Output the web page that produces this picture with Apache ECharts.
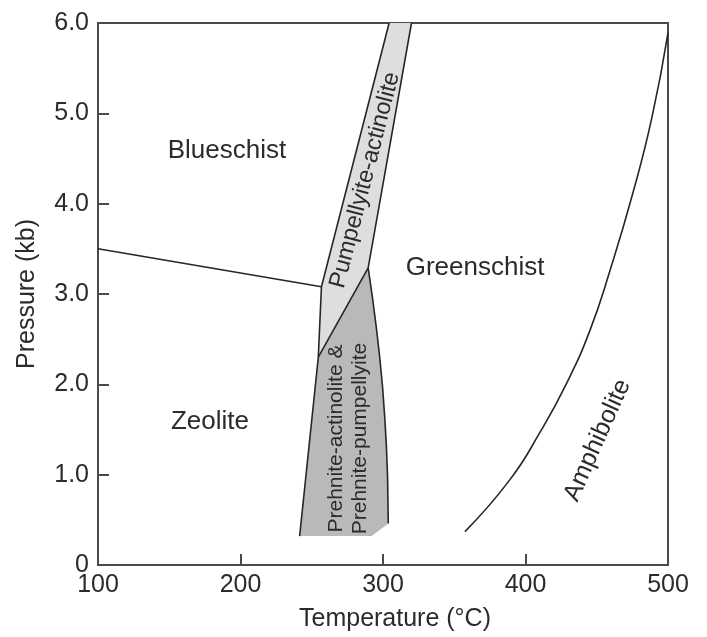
<!DOCTYPE html>
<html>
<head>
<meta charset="utf-8">
<script src="https://cdn.jsdelivr.net/npm/echarts@6/dist/echarts.min.js"></script>
<style>
html,body{margin:0;padding:0;background:#fff;}
#chart{width:707px;height:637px;}
</style>
</head>
<body>
<div id="chart"></div>
<script>
// ---- data ----
const xTickLabels = ['100', '200', '300', '400', '500'];
const yTickLabels = ['0', '1.0', '2.0', '3.0', '4.0', '5.0', '6.0'];

// Pumpellyite-actinolite band (light)
const pumpActT = [304.3, 320.0, 289.6, 254.6, 256.8];
const pumpActP = [6.0, 6.0, 3.29, 2.30, 3.08];

// Prehnite-actinolite & Prehnite-pumpellyite field (dark)
const prehT = [289.6, 292.6, 295.3, 297.7, 299.7, 301.2, 302.4, 303.2, 303.7, 292.0, 241.5, 254.6];
const prehP = [3.29, 2.96, 2.63, 2.30, 1.97, 1.64, 1.31, 0.98, 0.46, 0.32, 0.32, 2.30];

// boundary lines
const leftEdgeT = [304.3, 256.8, 254.6, 241.5];
const leftEdgeP = [6.0, 3.08, 2.30, 0.32];
const rightEdgeT = [320.0, 289.6, 292.6, 295.3, 297.7, 299.7, 301.2, 302.4, 303.2, 303.7];
const rightEdgeP = [6.0, 3.29, 2.96, 2.63, 2.30, 1.97, 1.64, 1.31, 0.98, 0.46];
const splitT = [254.6, 289.6];
const splitP = [2.30, 3.29];
const blueschistT = [100, 256.8];
const blueschistP = [3.50, 3.08];
const amphT = [357.5, 389.1, 410.2, 429.1, 445.3, 459.3, 475.4, 488.8, 500];
const amphP = [0.37, 0.945, 1.47, 2.02, 2.60, 3.26, 4.12, 4.96, 5.89];

// region labels (anchor in data units)
const labelText = ['Blueschist', 'Greenschist', 'Zeolite', 'Amphibolite', 'Pumpellyite-actinolite', 'Prehnite-actinolite &\nPrehnite-pumpellyite'];
const labelT = [190.5, 364.6, 178.6, 450.5, 287.4, 275.5];
const labelP = [4.58, 3.29, 1.58, 1.38, 4.26, 1.40];

// ---- styles ----
const FONT = "'Liberation Sans', Arial, Helvetica, sans-serif";
const TEXT_COLOR = '#2b2b2b';
const LINE_COLOR = '#262626';
const labelStyle = [
  {rot: 0, size: 26},
  {rot: 0, size: 26},
  {rot: 0, size: 26},
  {rot: 66, size: 25},
  {rot: 75.5, size: 23.5},
  {rot: 90, size: 21, lh: 24}
];

const zip = (a, b) => a.map((v, i) => [v, b[i]]);

function polySeries(ts, ps, fill) {
  return {
    type: 'custom',
    coordinateSystem: 'cartesian2d',
    silent: true,
    z: 1,
    data: [[300, 3]],
    renderItem: function (params, api) {
      return {
        type: 'polygon',
        shape: { points: ts.map((t, i) => api.coord([t, ps[i]])) },
        style: { fill: fill, stroke: null }
      };
    }
  };
}

function lineSeries(ts, ps, smooth) {
  return {
    type: 'line',
    data: zip(ts, ps),
    showSymbol: false,
    symbol: 'none',
    smooth: smooth || false,
    silent: true,
    z: 3,
    lineStyle: { color: LINE_COLOR, width: 1.6 },
    animation: false
  };
}

const labelSeries = {
  type: 'custom',
  coordinateSystem: 'cartesian2d',
  silent: true,
  z: 5,
  data: labelText.map((t, i) => [labelT[i], labelP[i], i]),
  renderItem: function (params, api) {
    const i = api.value(2);
    const c = api.coord([api.value(0), api.value(1)]);
    const st = labelStyle[i];
    return {
      type: 'text',
      x: c[0], y: c[1],
      rotation: st.rot * Math.PI / 180,
      style: {
        text: labelText[i],
        x: 0, y: 0,
        align: 'center',
        verticalAlign: 'middle',
        fill: TEXT_COLOR,
        font: st.size + 'px ' + FONT,
        lineHeight: st.lh || st.size
      }
    };
  }
};

const chart = echarts.init(document.getElementById('chart'), null, { renderer: 'canvas' });
chart.setOption({
  animation: false,
  backgroundColor: '#ffffff',
  textStyle: { fontFamily: FONT },
  grid: {
    left: 98, right: 39, top: 23, bottom: 68,
    show: true, borderColor: '#4a4a4a', borderWidth: 2
  },
  xAxis: {
    type: 'value', min: 100, max: 500, interval: 100,
    splitLine: { show: false },
    axisLine: { show: true, lineStyle: { color: '#4a4a4a', width: 2 } },
    axisTick: { show: true, inside: true, length: 11, lineStyle: { color: '#4a4a4a', width: 2 } },
    axisLabel: {
      color: TEXT_COLOR, fontSize: 25, fontFamily: FONT, margin: 8,
      formatter: (v) => xTickLabels[Math.round((v - 100) / 100)]
    },
    name: 'Temperature (°C)',
    nameLocation: 'middle',
    nameGap: 42,
    nameTextStyle: { color: TEXT_COLOR, fontSize: 25, fontFamily: FONT, padding: [0, 0, 0, 24] }
  },
  yAxis: {
    type: 'value', min: 0, max: 6, interval: 1,
    splitLine: { show: false },
    axisLine: { show: true, lineStyle: { color: '#4a4a4a', width: 2 } },
    axisTick: { show: true, inside: true, length: 11, lineStyle: { color: '#4a4a4a', width: 2 } },
    axisLabel: {
      color: TEXT_COLOR, fontSize: 25, fontFamily: FONT, margin: 9,
      formatter: (v) => yTickLabels[Math.round(v)]
    },
    name: 'Pressure (kb)',
    nameLocation: 'middle',
    nameRotate: 90,
    nameGap: 58,
    nameTextStyle: { color: TEXT_COLOR, fontSize: 25, fontFamily: FONT }
  },
  series: [
    polySeries(pumpActT, pumpActP, '#dedede'),
    polySeries(prehT, prehP, '#b9b9b9'),
    lineSeries(leftEdgeT, leftEdgeP),
    lineSeries(rightEdgeT, rightEdgeP),
    lineSeries(splitT, splitP),
    lineSeries(blueschistT, blueschistP),
    lineSeries(amphT, amphP, 0.5),
    labelSeries
  ]
});
</script>
</body>
</html>
